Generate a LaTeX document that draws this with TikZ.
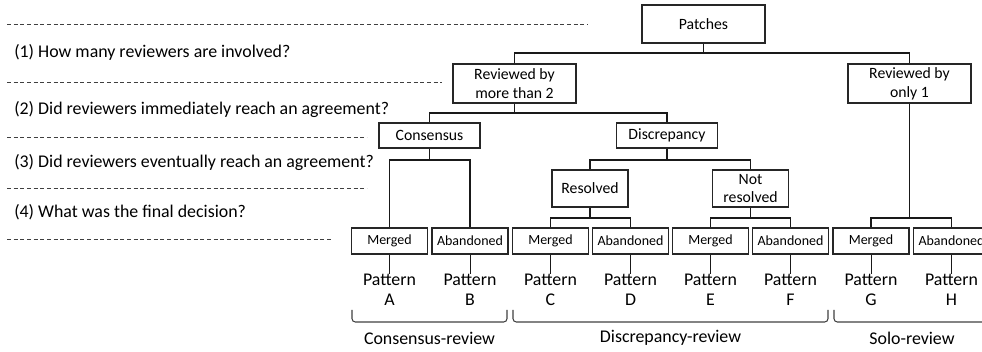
\documentclass[tikz,border=0pt]{standalone}
\usepackage{fontspec}
\setmainfont{Carlito}
\usetikzlibrary{positioning}
\tikzset{
    box/.style={draw=black!85,line width=0.8pt,align=center,inner sep=0pt,
        font=\fontsize{11.8}{14.2}\selectfont},
    big/.style={box,minimum width=92.25pt,minimum height=29.25pt},
    mid/.style={box,minimum width=75.75pt,minimum height=18.75pt},
    small/.style={box,minimum width=57pt,minimum height=27.75pt},
    leaf/.style={box,minimum width=57pt,minimum height=19.5pt,
        font=\fontsize{10.5}{12}\selectfont},
    pat/.style={align=center,inner sep=0pt,font=\fontsize{13.4}{15.2}\selectfont},
    conn/.style={black!90,line width=0.9pt},
    qline/.style={black!75,line width=0.7pt,dash pattern=on 3pt off 2pt},
    brk/.style={black!75,line width=0.8pt,rounded corners=2.5pt},
    ask/.style={anchor=west,inner sep=0pt,font=\fontsize{13.4}{15}\selectfont}
}
\begin{document}
\begin{tikzpicture}[x=0.75pt,y=-0.75pt]
    \useasboundingbox (0,0) rectangle (982,352);
    \clip (0,0) rectangle (982,352);
    \draw[qline] (7,24) -- (588,24);
    \draw[qline] (7,82) -- (442,82);
    \draw[qline] (7,137) -- (367,137);
    \draw[qline] (7,188) -- (367,188);
    \draw[qline] (7,239) -- (333,239);
    \node[ask] (q1) at (14,52) {(1) How many reviewers are involved?};
    \node[ask] (q2) at (14,110) {(2) Did reviewers immediately reach an agreement?};
    \node[ask] (q3) at (14,163) {(3) Did reviewers eventually reach an agreement?};
    \node[ask] (q4) at (14,212) {(4) What was the final decision?};
    \node[big,minimum height=28.5pt] (patches) at (703.5,24) {Patches};
    \node[big] (more) at (514.5,83.5) {Reviewed by\\more than 2};
    \node[big] (only) at (909.5,83.5) {Reviewed by\\only 1};
    \node[mid] (cons) at (429.5,135.5) {Consensus};
    \node[mid] (disc) at (667,135.5) {Discrepancy};
    \node[small] (res) at (590,188.5) {Resolved};
    \node[small] (notres) at (750.5,188.5) {Not\\resolved};
    \node[leaf] (mA) at (389.5,241) {Merged};
    \node[leaf] (mB) at (470,241) {Abandoned};
    \node[leaf] (mC) at (550.5,241) {Merged};
    \node[leaf] (mD) at (630.5,241) {Abandoned};
    \node[leaf] (mE) at (710.5,241) {Merged};
    \node[leaf] (mF) at (790.5,241) {Abandoned};
    \node[leaf] (mG) at (871,241) {Merged};
    \node[leaf] (mH) at (951.5,241) {Abandoned};
    \coordinate (j0) at (703.5,53);
    \coordinate (j1) at (514.5,113);
    \coordinate (j2) at (429.5,160);
    \coordinate (j3) at (667,160);
    \coordinate (j4) at (590,218);
    \coordinate (j5) at (750.5,218);
    \coordinate (j6) at (909.5,218);
    \draw[conn] (patches.south) -- (j0);
    \draw[conn] (more.north) |- (j0) -| (only.north);
    \draw[conn] (more.south) -- (j1);
    \draw[conn] (cons.north) |- (j1) -| (disc.north);
    \draw[conn] (cons.south) -- (j2);
    \draw[conn] (mA.north) |- (j2) -| (mB.north);
    \draw[conn] (disc.south) -- (j3);
    \draw[conn] (res.north) |- (j3) -| (notres.north);
    \draw[conn] (res.south) -- (j4);
    \draw[conn] (mC.north) |- (j4) -| (mD.north);
    \draw[conn] (notres.south) -- (j5);
    \draw[conn] (mE.north) |- (j5) -| (mF.north);
    \draw[conn] (only.south) -- (j6);
    \draw[conn] (mG.north) |- (j6) -| (mH.north);
    \node[pat,below=14.25pt of mA] (pA) {Pattern\\A};
    \node[pat,below=14.25pt of mB] (pB) {Pattern\\B};
    \node[pat,below=14.25pt of mC] (pC) {Pattern\\C};
    \node[pat,below=14.25pt of mD] (pD) {Pattern\\D};
    \node[pat,below=14.25pt of mE] (pE) {Pattern\\E};
    \node[pat,below=14.25pt of mF] (pF) {Pattern\\F};
    \node[pat,below=14.25pt of mG] (pG) {Pattern\\G};
    \node[pat,below=14.25pt of mH] (pH) {Pattern\\H};
    \draw[conn,line width=0.7pt] (mA) -- (pA);
    \draw[conn,line width=0.7pt] (mB) -- (pB);
    \draw[conn,line width=0.7pt] (mC) -- (pC);
    \draw[conn,line width=0.7pt] (mD) -- (pD);
    \draw[conn,line width=0.7pt] (mE) -- (pE);
    \draw[conn,line width=0.7pt] (mF) -- (pF);
    \draw[conn,line width=0.7pt] (mG) -- (pG);
    \draw[conn,line width=0.7pt] (mH) -- (pH);
    \draw[brk] (352,310) -- (352,322) -- (507,322) -- (507,310);
    \draw[brk] (513,310) -- (513,322) -- (828,322) -- (828,310);
    \draw[brk] (834,310) -- (834,322) -- (992,322) -- (992,310);
    \node[pat] (rc) at (429.5,338) {Consensus-review};
    \node[pat] (rd) at (670.5,338) {Discrepancy-review};
    \node[pat] (rs) at (912,338) {Solo-review};
\end{tikzpicture}
\end{document}
